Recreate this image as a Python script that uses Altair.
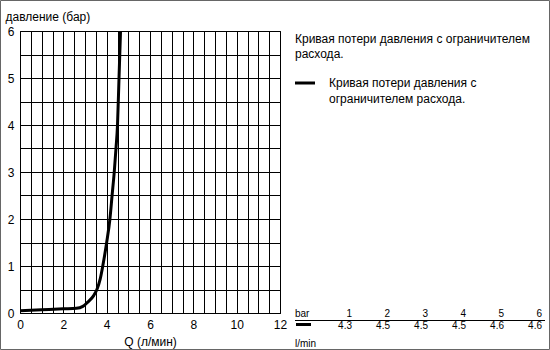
import altair as alt
import pandas as pd

# Curve
flow = [0, 1, 2, 2.6, 2.9, 3.1, 3.4, 3.55, 3.7, 3.82, 4.0, 4.15, 4.25, 4.35, 4.43, 4.5, 4.57, 4.64]
pressure = [0.05, 0.07, 0.09, 0.1, 0.14, 0.22, 0.37, 0.5, 0.72, 1.0, 1.5, 2.0, 2.5, 3.0, 3.5, 4.0, 5.0, 6.0]

# Table at the lower right
table_bar = [1, 2, 3, 4, 5, 6]
table_flow = ["4.3", "4.5", "4.5", "4.5", "4.6", "4.6"]

title_text = ["Кривая потери давления с ограничителем", "расхода."]
legend_text = ["Кривая потери давления с", "ограничителем расхода."]

FONT = "Liberation Sans"

curve_df = pd.DataFrame({"Q": flow, "P": pressure})
table_df = pd.DataFrame({"bar": table_bar, "flow": table_flow})

x_grid = [i * 0.5 for i in range(25)]
y_grid = [i * 0.5 for i in range(13)]

line = alt.Chart(curve_df).mark_line(
    color="black", strokeWidth=3, interpolate="monotone", clip=True
).encode(
    x=alt.X("Q:Q", scale=alt.Scale(domain=[0, 12], nice=False),
            axis=alt.Axis(values=x_grid, grid=True, ticks=False,
                          labelExpr="datum.value % 2 == 0 ? format(datum.value, 'd') : ''",
                          labelFlush=False, labelOverlap=False, labelPadding=6,
                          title="Q (л/мин)", titleX=130, titleY=32,
                          titleBaseline="alphabetic")),
    y=alt.Y("P:Q", scale=alt.Scale(domain=[0, 6], nice=False),
            axis=alt.Axis(values=y_grid, grid=True, ticks=False,
                          labelExpr="datum.value % 1 == 0 ? format(datum.value, 'd') : ''",
                          labelFlush=False, labelOverlap=False, labelPadding=6,
                          title="давление (бар)", titleAngle=0, titleAlign="left",
                          titleX=-15, titleY=-11, titleBaseline="alphabetic")),
)

one = pd.DataFrame({"a": [0]})

border = alt.Chart(one).mark_rect(fill=None, stroke="#666666", strokeWidth=1).encode(
    x=alt.value(-19.5), x2=alt.value(529.5), y=alt.value(-30.5), y2=alt.value(318.5)
)

title_mark = alt.Chart(pd.DataFrame({"t": [title_text]})).mark_text(
    align="left", baseline="alphabetic", font=FONT, fontSize=12, lineHeight=15, color="black"
).encode(text="t", x=alt.value(275), y=alt.value(12))

legend_line = alt.Chart(one).mark_rule(color="black", strokeWidth=3).encode(
    x=alt.value(275), x2=alt.value(295), y=alt.value(52)
)
legend_mark = alt.Chart(pd.DataFrame({"t": [legend_text]})).mark_text(
    align="left", baseline="alphabetic", font=FONT, fontSize=12, lineHeight=16, color="black"
).encode(text="t", x=alt.value(309), y=alt.value(56))

bar_label = alt.Chart(pd.DataFrame({"t": ["bar"]})).mark_text(
    align="left", baseline="alphabetic", font=FONT, fontSize=10, color="black"
).encode(text="t", x=alt.value(275), y=alt.value(285.5))

unit_label = alt.Chart(pd.DataFrame({"t": ["l/min"]})).mark_text(
    align="left", baseline="alphabetic", font=FONT, fontSize=10, color="black"
).encode(text="t", x=alt.value(275), y=alt.value(316))

table_rule = alt.Chart(one).mark_rule(color="black", strokeWidth=1).encode(
    x=alt.value(275), x2=alt.value(525), y=alt.value(289.5)
)
table_swatch = alt.Chart(one).mark_rule(color="black", strokeWidth=3).encode(
    x=alt.value(276), x2=alt.value(291), y=alt.value(293.5)
)

tab_x = alt.X("bar:Q", scale=alt.Scale(domain=[1, 6], range=[332, 522]), axis=None)
table_top = alt.Chart(table_df).mark_text(
    align="right", baseline="alphabetic", font=FONT, fontSize=10, color="black"
).encode(x=tab_x, text="bar:Q", y=alt.value(285.5))
table_bottom = alt.Chart(table_df).mark_text(
    align="right", baseline="alphabetic", font=FONT, fontSize=10, color="black"
).encode(x=tab_x, text="flow:N", y=alt.value(298))

chart = alt.layer(
    line, border, title_mark, legend_line, legend_mark, bar_label, unit_label,
    table_rule, table_swatch, table_top, table_bottom
).resolve_scale(x="independent").properties(
    width=260, height=282,
    autosize=alt.AutoSizeParams(type="none"),
    padding={"left": 20, "top": 31, "right": 270, "bottom": 37},
    background="white",
).configure_view(
    stroke="black", strokeWidth=1
).configure_axis(
    gridColor="black", gridWidth=1, gridOpacity=1,
    domainColor="black", domainWidth=1,
    labelFont=FONT, labelFontSize=12, labelColor="black",
    titleFont=FONT, titleFontSize=12, titleColor="black", titleFontWeight="normal",
)

chart.save("out.html", embed_options={"renderer": "svg", "actions": False})
